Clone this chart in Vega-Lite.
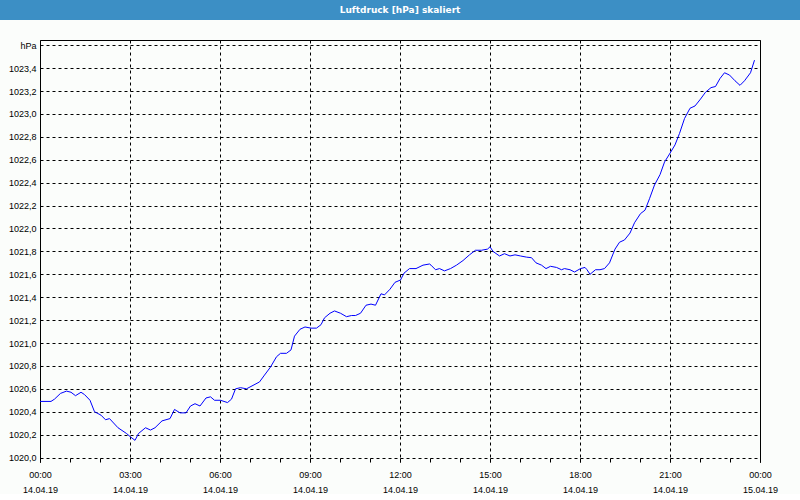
{
  "$schema": "https://vega.github.io/schema/vega-lite/v6.json",
  "background": "#fbfdfb",
  "padding": 0,
  "spacing": 20,
  "columns": 1,
  "config": {"view": {"stroke": null}, "font": "Liberation Sans"},
  "concat": [
    {
      "width": 800,
      "height": 20,
      "view": {"fill": "#3c8fc5", "stroke": null},
      "data": {"values": [{"title": "Luftdruck [hPa] skaliert"}]},
      "mark": {"type": "text", "color": "#ffffff", "fontWeight": "bold", "fontSize": 9, "font": "DejaVu Sans", "baseline": "middle", "align": "center"},
      "encoding": {"text": {"field": "title"}}
    },
    {
      "width": 760,
      "height": 422,
      "data": {"values": [
        {"t": "2019-04-14T00:00", "p": 1020.49},
        {"t": "2019-04-14T00:22", "p": 1020.49},
        {"t": "2019-04-14T00:29", "p": 1020.51},
        {"t": "2019-04-14T00:41", "p": 1020.56},
        {"t": "2019-04-14T00:53", "p": 1020.58},
        {"t": "2019-04-14T01:02", "p": 1020.57},
        {"t": "2019-04-14T01:11", "p": 1020.54},
        {"t": "2019-04-14T01:22", "p": 1020.57},
        {"t": "2019-04-14T01:29", "p": 1020.55},
        {"t": "2019-04-14T01:40", "p": 1020.50},
        {"t": "2019-04-14T01:49", "p": 1020.40},
        {"t": "2019-04-14T02:02", "p": 1020.37},
        {"t": "2019-04-14T02:11", "p": 1020.33},
        {"t": "2019-04-14T02:19", "p": 1020.34},
        {"t": "2019-04-14T02:36", "p": 1020.26},
        {"t": "2019-04-14T02:53", "p": 1020.21},
        {"t": "2019-04-14T03:01", "p": 1020.18},
        {"t": "2019-04-14T03:10", "p": 1020.15},
        {"t": "2019-04-14T03:17", "p": 1020.21},
        {"t": "2019-04-14T03:31", "p": 1020.26},
        {"t": "2019-04-14T03:41", "p": 1020.24},
        {"t": "2019-04-14T03:50", "p": 1020.26},
        {"t": "2019-04-14T04:04", "p": 1020.32},
        {"t": "2019-04-14T04:20", "p": 1020.34},
        {"t": "2019-04-14T04:29", "p": 1020.42},
        {"t": "2019-04-14T04:40", "p": 1020.39},
        {"t": "2019-04-14T04:52", "p": 1020.39},
        {"t": "2019-04-14T05:01", "p": 1020.45},
        {"t": "2019-04-14T05:10", "p": 1020.47},
        {"t": "2019-04-14T05:20", "p": 1020.45},
        {"t": "2019-04-14T05:32", "p": 1020.52},
        {"t": "2019-04-14T05:41", "p": 1020.53},
        {"t": "2019-04-14T05:49", "p": 1020.50},
        {"t": "2019-04-14T06:01", "p": 1020.50},
        {"t": "2019-04-14T06:15", "p": 1020.48},
        {"t": "2019-04-14T06:23", "p": 1020.51},
        {"t": "2019-04-14T06:31", "p": 1020.60},
        {"t": "2019-04-14T06:41", "p": 1020.61},
        {"t": "2019-04-14T06:53", "p": 1020.60},
        {"t": "2019-04-14T07:06", "p": 1020.63},
        {"t": "2019-04-14T07:19", "p": 1020.66},
        {"t": "2019-04-14T07:29", "p": 1020.72},
        {"t": "2019-04-14T07:41", "p": 1020.79},
        {"t": "2019-04-14T07:53", "p": 1020.88},
        {"t": "2019-04-14T08:01", "p": 1020.91},
        {"t": "2019-04-14T08:13", "p": 1020.91},
        {"t": "2019-04-14T08:22", "p": 1020.94},
        {"t": "2019-04-14T08:29", "p": 1021.06},
        {"t": "2019-04-14T08:40", "p": 1021.12},
        {"t": "2019-04-14T08:50", "p": 1021.14},
        {"t": "2019-04-14T09:02", "p": 1021.13},
        {"t": "2019-04-14T09:13", "p": 1021.13},
        {"t": "2019-04-14T09:22", "p": 1021.16},
        {"t": "2019-04-14T09:29", "p": 1021.22},
        {"t": "2019-04-14T09:40", "p": 1021.26},
        {"t": "2019-04-14T09:49", "p": 1021.28},
        {"t": "2019-04-14T10:01", "p": 1021.26},
        {"t": "2019-04-14T10:13", "p": 1021.23},
        {"t": "2019-04-14T10:23", "p": 1021.24},
        {"t": "2019-04-14T10:31", "p": 1021.24},
        {"t": "2019-04-14T10:41", "p": 1021.26},
        {"t": "2019-04-14T10:52", "p": 1021.33},
        {"t": "2019-04-14T11:02", "p": 1021.34},
        {"t": "2019-04-14T11:11", "p": 1021.33},
        {"t": "2019-04-14T11:22", "p": 1021.43},
        {"t": "2019-04-14T11:29", "p": 1021.42},
        {"t": "2019-04-14T11:40", "p": 1021.47},
        {"t": "2019-04-14T11:50", "p": 1021.53},
        {"t": "2019-04-14T12:01", "p": 1021.55},
        {"t": "2019-04-14T12:08", "p": 1021.61},
        {"t": "2019-04-14T12:19", "p": 1021.65},
        {"t": "2019-04-14T12:32", "p": 1021.65},
        {"t": "2019-04-14T12:46", "p": 1021.68},
        {"t": "2019-04-14T12:59", "p": 1021.69},
        {"t": "2019-04-14T13:02", "p": 1021.68},
        {"t": "2019-04-14T13:11", "p": 1021.64},
        {"t": "2019-04-14T13:19", "p": 1021.65},
        {"t": "2019-04-14T13:29", "p": 1021.63},
        {"t": "2019-04-14T13:41", "p": 1021.65},
        {"t": "2019-04-14T13:53", "p": 1021.68},
        {"t": "2019-04-14T14:06", "p": 1021.72},
        {"t": "2019-04-14T14:19", "p": 1021.77},
        {"t": "2019-04-14T14:31", "p": 1021.81},
        {"t": "2019-04-14T14:43", "p": 1021.81},
        {"t": "2019-04-14T14:55", "p": 1021.82},
        {"t": "2019-04-14T15:00", "p": 1021.84},
        {"t": "2019-04-14T15:06", "p": 1021.80},
        {"t": "2019-04-14T15:19", "p": 1021.76},
        {"t": "2019-04-14T15:29", "p": 1021.78},
        {"t": "2019-04-14T15:40", "p": 1021.76},
        {"t": "2019-04-14T15:50", "p": 1021.77},
        {"t": "2019-04-14T16:01", "p": 1021.76},
        {"t": "2019-04-14T16:13", "p": 1021.75},
        {"t": "2019-04-14T16:23", "p": 1021.745},
        {"t": "2019-04-14T16:32", "p": 1021.70},
        {"t": "2019-04-14T16:43", "p": 1021.68},
        {"t": "2019-04-14T16:52", "p": 1021.65},
        {"t": "2019-04-14T17:01", "p": 1021.67},
        {"t": "2019-04-14T17:13", "p": 1021.66},
        {"t": "2019-04-14T17:23", "p": 1021.64},
        {"t": "2019-04-14T17:29", "p": 1021.65},
        {"t": "2019-04-14T17:40", "p": 1021.64},
        {"t": "2019-04-14T17:49", "p": 1021.62},
        {"t": "2019-04-14T18:01", "p": 1021.65},
        {"t": "2019-04-14T18:10", "p": 1021.66},
        {"t": "2019-04-14T18:14", "p": 1021.64},
        {"t": "2019-04-14T18:20", "p": 1021.60},
        {"t": "2019-04-14T18:31", "p": 1021.64},
        {"t": "2019-04-14T18:40", "p": 1021.64},
        {"t": "2019-04-14T18:49", "p": 1021.65},
        {"t": "2019-04-14T18:59", "p": 1021.70},
        {"t": "2019-04-14T19:10", "p": 1021.82},
        {"t": "2019-04-14T19:19", "p": 1021.88},
        {"t": "2019-04-14T19:29", "p": 1021.90},
        {"t": "2019-04-14T19:40", "p": 1021.96},
        {"t": "2019-04-14T19:49", "p": 1022.05},
        {"t": "2019-04-14T20:01", "p": 1022.13},
        {"t": "2019-04-14T20:10", "p": 1022.16},
        {"t": "2019-04-14T20:19", "p": 1022.26},
        {"t": "2019-04-14T20:29", "p": 1022.38},
        {"t": "2019-04-14T20:40", "p": 1022.47},
        {"t": "2019-04-14T20:49", "p": 1022.58},
        {"t": "2019-04-14T20:59", "p": 1022.65},
        {"t": "2019-04-14T21:10", "p": 1022.73},
        {"t": "2019-04-14T21:19", "p": 1022.83},
        {"t": "2019-04-14T21:29", "p": 1022.96},
        {"t": "2019-04-14T21:40", "p": 1023.05},
        {"t": "2019-04-14T21:50", "p": 1023.07},
        {"t": "2019-04-14T22:01", "p": 1023.13},
        {"t": "2019-04-14T22:11", "p": 1023.19},
        {"t": "2019-04-14T22:22", "p": 1023.23},
        {"t": "2019-04-14T22:31", "p": 1023.24},
        {"t": "2019-04-14T22:40", "p": 1023.31},
        {"t": "2019-04-14T22:49", "p": 1023.36},
        {"t": "2019-04-14T22:59", "p": 1023.34},
        {"t": "2019-04-14T23:10", "p": 1023.29},
        {"t": "2019-04-14T23:20", "p": 1023.25},
        {"t": "2019-04-14T23:29", "p": 1023.29},
        {"t": "2019-04-14T23:41", "p": 1023.36},
        {"t": "2019-04-14T23:49", "p": 1023.47}
      ]},
      "layer": [
        {
          "mark": {"type": "line", "color": "#0000ff", "strokeWidth": 1, "clip": true},
          "encoding": {
            "x": {
              "field": "t", "type": "temporal",
              "scale": {"domain": ["2019-04-14T00:00", "2019-04-15T00:00"], "range": [40, 760], "nice": false},
              "axis": {
                "orient": "bottom", "title": null, "domain": false,
                "values": [
                  {"year": 2019, "month": 4, "date": 14, "hours": 0},
                  {"year": 2019, "month": 4, "date": 14, "hours": 1},
                  {"year": 2019, "month": 4, "date": 14, "hours": 2},
                  {"year": 2019, "month": 4, "date": 14, "hours": 3},
                  {"year": 2019, "month": 4, "date": 14, "hours": 4},
                  {"year": 2019, "month": 4, "date": 14, "hours": 5},
                  {"year": 2019, "month": 4, "date": 14, "hours": 6},
                  {"year": 2019, "month": 4, "date": 14, "hours": 7},
                  {"year": 2019, "month": 4, "date": 14, "hours": 8},
                  {"year": 2019, "month": 4, "date": 14, "hours": 9},
                  {"year": 2019, "month": 4, "date": 14, "hours": 10},
                  {"year": 2019, "month": 4, "date": 14, "hours": 11},
                  {"year": 2019, "month": 4, "date": 14, "hours": 12},
                  {"year": 2019, "month": 4, "date": 14, "hours": 13},
                  {"year": 2019, "month": 4, "date": 14, "hours": 14},
                  {"year": 2019, "month": 4, "date": 14, "hours": 15},
                  {"year": 2019, "month": 4, "date": 14, "hours": 16},
                  {"year": 2019, "month": 4, "date": 14, "hours": 17},
                  {"year": 2019, "month": 4, "date": 14, "hours": 18},
                  {"year": 2019, "month": 4, "date": 14, "hours": 19},
                  {"year": 2019, "month": 4, "date": 14, "hours": 20},
                  {"year": 2019, "month": 4, "date": 14, "hours": 21},
                  {"year": 2019, "month": 4, "date": 14, "hours": 22},
                  {"year": 2019, "month": 4, "date": 14, "hours": 23},
                  {"year": 2019, "month": 4, "date": 15, "hours": 0}
                ],
                "grid": true, "gridColor": "#000000", "gridDash": [3, 3], "gridWidth": 1,
                "gridOpacity": {"condition": {"test": "hours(datum.value) % 3 == 0", "value": 1}, "value": 0},
                "ticks": true, "tickColor": "#000000", "tickSize": -4, "tickWidth": 1,
                "labelExpr": "hours(datum.value) % 3 == 0 ? [timeFormat(datum.value, '%H:%M'), timeFormat(datum.value, '%d.%m.%y')] : ''",
                "labelFont": "Liberation Sans", "labelFontSize": 9, "labelColor": "#000000",
                "labelPadding": 12, "labelLineHeight": 15, "labelOverlap": false, "labelFlush": false
              }
            },
            "y": {
              "field": "p", "type": "quantitative",
              "scale": {"domain": [1019.961, 1023.646], "nice": false, "zero": false},
              "axis": {
                "orient": "left", "title": null, "offset": -40,
                "values": [1020.0, 1020.2, 1020.4, 1020.6, 1020.8, 1021.0, 1021.2, 1021.4, 1021.6, 1021.8, 1022.0, 1022.2, 1022.4, 1022.6, 1022.8, 1023.0, 1023.2, 1023.4, 1023.6],
                "domain": true, "domainColor": "#000000", "domainWidth": 1,
                "ticks": false,
                "grid": true, "gridColor": "#000000", "gridDash": [3, 3], "gridWidth": 1,
                "labelExpr": "datum.value > 1023.5 ? 'hPa' : replace(format(datum.value, '.1f'), '.', ',')",
                "labelFont": "Liberation Sans", "labelFontSize": 9, "labelColor": "#000000",
                "labelPadding": 4, "labelOverlap": false, "labelFlush": false
              }
            }
          }
        },
        {
          "mark": {"type": "line", "opacity": 0},
          "encoding": {
            "x": {
              "field": "t", "type": "temporal",
              "axis": {"orient": "top", "title": null, "domain": true, "domainColor": "#000000", "ticks": false, "labels": false, "grid": false}
            },
            "y": {
              "field": "p", "type": "quantitative",
              "axis": {"orient": "right", "title": null, "domain": true, "domainColor": "#000000", "ticks": false, "labels": false, "grid": false}
            }
          }
        }
      ],
      "resolve": {"axis": {"x": "independent", "y": "independent"}}
    }
  ]
}
